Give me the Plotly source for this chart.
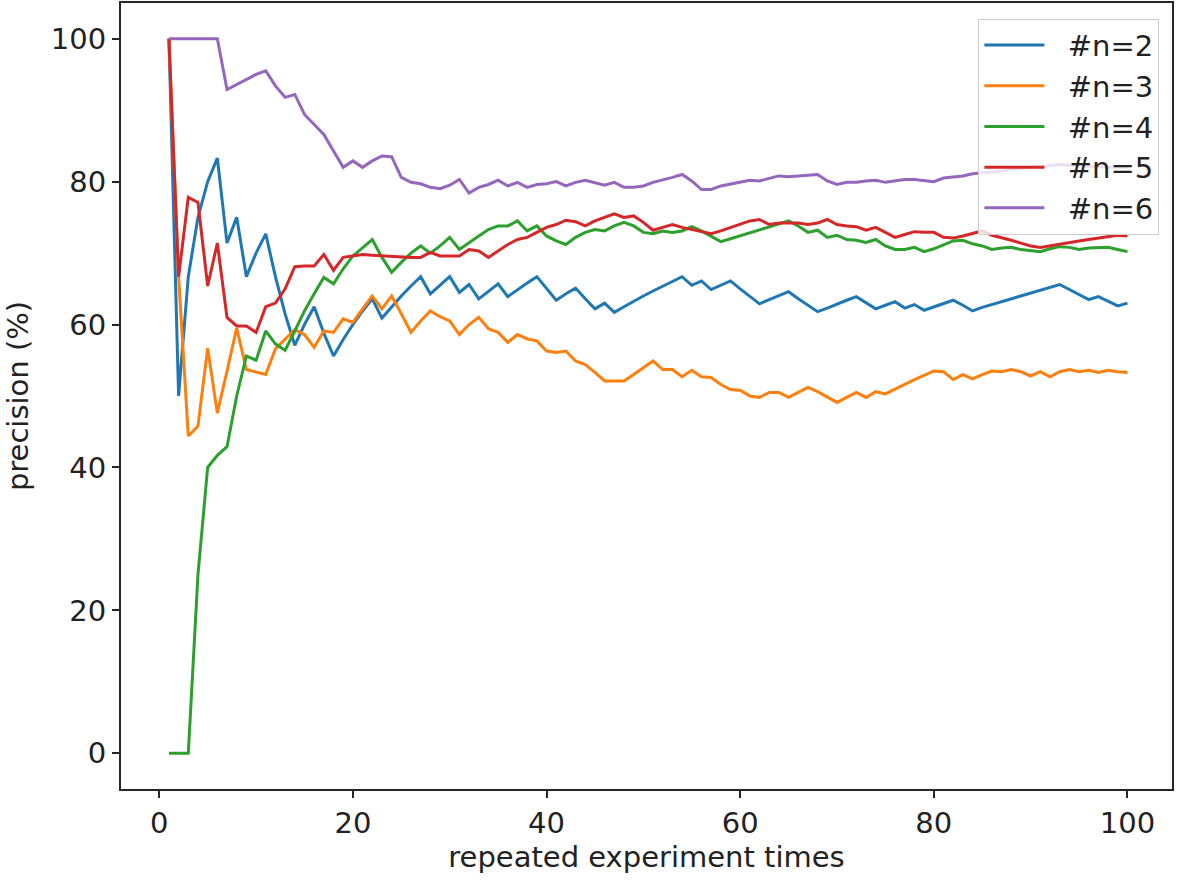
import plotly.graph_objects as go

# repeated experiment index 1..100
times = list(range(1, 101))

# precision (%) for each n
prec_n2 = [100, 50, 66.7, 75, 80, 83.3, 71.4, 75, 66.7, 70,
           72.7, 66.7, 61.5, 57.1, 60, 62.5, 58.8, 55.6, 57.9, 60,
           61.9, 63.6, 60.9, 62.5, 64, 65.4, 66.7, 64.3, 65.5, 66.7,
           64.5, 65.6, 63.6, 64.7, 65.7, 63.9, 64.9, 65.8, 66.7, 65,
           63.4, 64.3, 65.1, 63.6, 62.2, 63, 61.7, 62.5, 63.3, 64,
           64.7, 65.4, 66, 66.7, 65.5, 66.1, 64.9, 65.5, 66.1, 65,
           63.9, 62.9, 63.5, 64.1, 64.6, 63.6, 62.7, 61.8, 62.3, 62.9,
           63.4, 63.9, 63, 62.2, 62.7, 63.2, 62.3, 62.8, 62, 62.5,
           63, 63.4, 62.7, 61.9, 62.4, 62.8, 63.2, 63.6, 64, 64.4,
           64.8, 65.2, 65.6, 64.9, 64.2, 63.5, 63.9, 63.3, 62.6, 63]

prec_n3 = [100, 66.7, 44.4, 45.8, 56.7, 47.6, 53.5, 59.5, 53.7, 53.3,
           53.0, 56.6, 58.0, 59.3, 58.6, 56.8, 59.1, 58.9, 60.8, 60.3,
           62.2, 64.0, 62.2, 64.0, 61.5, 58.9, 60.5, 61.9, 61.1, 60.5,
           58.6, 60.0, 61.0, 59.4, 58.9, 57.5, 58.6, 58.0, 57.7, 56.3,
           56.1, 56.3, 54.9, 54.4, 53.3, 52.1, 52.1, 52.1, 53.0, 54.0,
           54.9, 53.7, 53.7, 52.7, 53.6, 52.7, 52.6, 51.6, 50.9, 50.8,
           50.0, 49.8, 50.5, 50.5, 49.8, 50.5, 51.2, 50.6, 49.9, 49.1,
           49.8, 50.5, 49.8, 50.6, 50.3, 51.0, 51.7, 52.3, 52.9, 53.5,
           53.4, 52.3, 53.0, 52.4, 53.0, 53.5, 53.4, 53.7, 53.4, 52.8,
           53.4, 52.7, 53.4, 53.7, 53.4, 53.6, 53.3, 53.6, 53.4, 53.3]

prec_n4 = [0, 0, 0, 25, 40, 41.7, 42.9, 50, 55.6, 55,
           59.1, 57.3, 56.4, 59.1, 61.9, 64.3, 66.6, 65.7, 67.8, 69.6,
           70.8, 71.9, 69.4, 67.3, 68.7, 70.0, 71.0, 70.0, 71.0, 72.2,
           70.5, 71.5, 72.4, 73.3, 73.8, 73.8, 74.5, 73.1, 73.8, 72.4,
           71.7, 71.2, 72.2, 72.9, 73.3, 73.1, 73.8, 74.3, 73.8, 72.9,
           72.7, 73.1, 72.9, 73.1, 73.7, 73.1, 72.4, 71.6, 72.0, 72.4,
           72.8, 73.2, 73.6, 74.0, 74.5, 73.8, 72.9, 73.2, 72.2, 72.5,
           71.9, 71.8, 71.5, 71.9, 71.0, 70.5, 70.5, 70.8, 70.2, 70.6,
           71.1, 71.7, 71.8, 71.3, 71.0, 70.5, 70.7, 70.8, 70.5, 70.4,
           70.2, 70.6, 70.9, 70.8, 70.5, 70.7, 70.7, 70.8, 70.5, 70.2]

prec_n5 = [100, 66.7, 77.8, 77.1, 65.4, 71.4, 61.0, 59.8, 59.8, 58.9,
           62.5, 63.0, 65.0, 68.1, 68.2, 68.2, 69.8, 67.6, 69.4, 69.6,
           69.8, 69.7, 69.6, 69.5, 69.4, 69.4, 69.4, 70.1, 69.6, 69.6,
           69.6, 70.5, 70.3, 69.4, 70.3, 71.2, 71.9, 72.2, 72.9, 73.6,
           74.0, 74.6, 74.4, 73.8, 74.5, 75.0, 75.5, 75.0, 75.2, 74.3,
           73.2, 73.6, 74.0, 73.6, 73.3, 72.9, 72.7, 73.1, 73.6, 74.0,
           74.5, 74.7, 74.0, 74.2, 74.2, 74.2, 74.0, 74.2, 74.7, 74.0,
           73.8, 73.7, 73.2, 73.6, 72.9, 72.2, 72.6, 73.0, 72.9, 72.9,
           72.2, 72.1, 72.4, 72.8, 73.1, 72.5, 72.2, 71.8, 71.4, 71.0,
           70.8, 71.0, 71.3, 71.4, 71.7, 71.9, 72.1, 72.4, 72.5, 72.4]

prec_n6 = [100, 100, 100, 100, 100, 100, 92.9, 93.6, 94.3, 95.0,
           95.5, 93.4, 91.8, 92.2, 89.4, 88.0, 86.6, 84.3, 82.0, 82.9,
           82.0, 82.9, 83.6, 83.5, 80.6, 79.9, 79.7, 79.2, 79.0, 79.5,
           80.3, 78.4, 79.2, 79.6, 80.2, 79.4, 79.9, 79.2, 79.6, 79.7,
           80.0, 79.4, 79.9, 80.2, 79.9, 79.5, 79.9, 79.2, 79.2, 79.4,
           79.9, 80.2, 80.6, 81.0, 80.1, 78.9, 78.9, 79.4, 79.7, 80.0,
           80.2, 80.1, 80.5, 80.8, 80.7, 80.8, 80.8, 81.0, 80.1, 79.6,
           79.9, 79.9, 80.1, 80.2, 79.9, 80.1, 80.3, 80.3, 80.1, 80.0,
           80.5, 80.6, 80.8, 81.1, 81.2, 81.4, 81.5, 81.7, 81.9, 82.0,
           82.1, 82.3, 82.4, 82.3, 82.2, 82.1, 82.1, 82.0, 82.0, 82.0]

labels = ["#n=2", "#n=3", "#n=4", "#n=5", "#n=6"]
colors = ["#1f77b4", "#ff7f0e", "#2ca02c", "#d62728", "#9467bd"]
series = [prec_n2, prec_n3, prec_n4, prec_n5, prec_n6]

fig = go.Figure()
for name, color, ys in zip(labels, colors, series):
    # non-breaking spaces push the label away from the line sample, like matplotlib
    fig.add_trace(go.Scatter(x=times, y=ys, mode="lines", name="\u00a0\u00a0" + name,
                             legendgroup=name,
                             line=dict(color=color, width=3)))

axis_style = dict(showline=True, linecolor="#262626", linewidth=2, mirror=True,
                  ticks="outside", ticklen=7, tickwidth=2, tickcolor="#262626",
                  showgrid=False, zeroline=False, automargin=False,
                  tickfont=dict(size=29, color="#222222"))

fig.update_xaxes(range=[-3.95, 104.6], tickvals=[0, 20, 40, 60, 80, 100],
                 title=dict(text="repeated experiment times", font=dict(size=29, color="#222222"),
                            standoff=6),
                 **axis_style)
fig.update_yaxes(range=[-5, 105], tickvals=[0, 20, 40, 60, 80, 100],
                 title=dict(text="precision (%)", font=dict(size=29, color="#222222"),
                            standoff=14),
                 **axis_style)

fig.update_layout(
    width=1181, height=880,
    margin=dict(l=121, r=9, t=3, b=91),
    plot_bgcolor="white", paper_bgcolor="white",
    font=dict(family="DejaVu Sans", color="#222222"),
    legend=dict(x=0.988, y=0.98, xanchor="right", yanchor="top",
                bgcolor="rgba(255,255,255,0.8)", bordercolor="#cccccc", borderwidth=1,
                font=dict(size=29, color="#222222"), itemwidth=60,
                tracegroupgap=0),
    showlegend=True,
)

# drop the browser's default 8px body margin so the figure sits at the page corner
fig.write_html("out.html", config={"displayModeBar": False},
               post_script="document.body.style.margin='0';")
